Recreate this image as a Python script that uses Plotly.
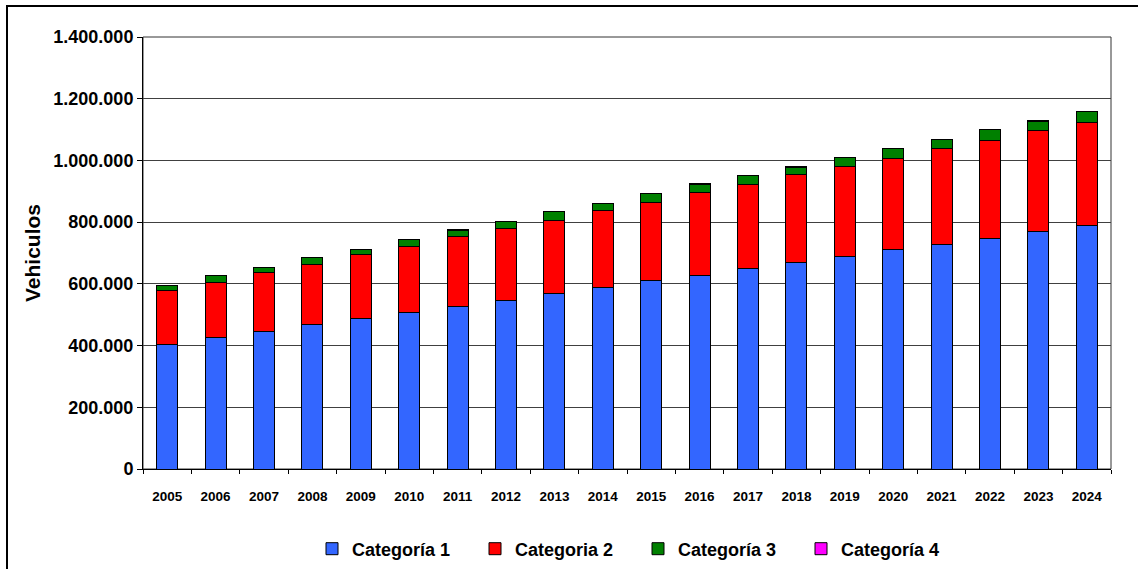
import plotly.graph_objects as go

years = [str(y) for y in range(2005, 2025)]
cat1 = [403000, 426000, 446000, 468000, 488000, 506000, 527000, 547000, 568000, 589000,
        611000, 627000, 649000, 669000, 690000, 711000, 728000, 748000, 770000, 789000]
cat2 = [175000, 177000, 190000, 195000, 207000, 215000, 227000, 233000, 237000, 249000,
        252000, 268000, 273000, 286000, 291000, 296000, 311000, 317000, 328000, 335000]
cat3 = [17000, 24000, 18000, 22000, 16000, 22000, 18000, 22000, 28000, 22000,
        29000, 27000, 29000, 22000, 28000, 33000, 29000, 34000, 27000, 33000]
cat4 = [0, 0, 0, 0, 0, 0, 3000, 0, 0, 0,
        0, 3000, 0, 3000, 0, 0, 0, 0, 3000, 0]

names = ["Categoría 1", "Categoria 2", "Categoría 3", "Categoría 4"]
colors = ["#3366FF", "#FF0000", "#008000", "#FF00FF"]
series = [cat1, cat2, cat3, cat4]

fig = go.Figure()
for n, c, s in zip(names, colors, series):
    fig.add_trace(go.Bar(x=years, y=s, name=n, marker=dict(color=c, line=dict(color="black", width=1))))

L, T, R, B = 143, 37, 1111, 469
W, H = 1138, 569
pw, ph = R - L, B - T

def px(x):
    return (x - L) / pw

def py(y):
    return (B - y) / ph

fig.update_layout(
    width=W, height=H, autosize=False,
    margin=dict(l=L, r=W - R, t=T, b=H - B),
    barmode="stack", bargap=0.565,
    plot_bgcolor="white", paper_bgcolor="white",
    separators=",.",
    font=dict(family="Liberation Sans, Arial, sans-serif", color="black"),
    showlegend=True,
    legend=dict(orientation="h", xref="container", yref="container",
                x=312 / W, y=1 - 549 / H, xanchor="left", yanchor="middle",
                entrywidth=118, entrywidthmode="pixels",
                font=dict(size=18, weight="bold"), itemclick=False,
                traceorder="normal", tracegroupgap=0),
    shapes=[
        dict(type="rect", xref="paper", yref="paper", x0=px(7), x1=px(1145), y0=py(6), y1=py(580),
             line=dict(color="black", width=2), fillcolor="rgba(0,0,0,0)", layer="above"),
        dict(type="rect", xref="paper", yref="paper", x0=0, x1=1, y0=0, y1=1,
             line=dict(color="#333333", width=1), fillcolor="rgba(0,0,0,0)", layer="below"),
    ],
)

fig.update_yaxes(
    range=[0, 1400000], dtick=200000, tickformat=",d",
    showgrid=True, gridcolor="#404040", gridwidth=1,
    showline=True, linecolor="black", linewidth=1,
    ticks="outside", ticklen=5, tickcolor="black",
    tickfont=dict(size=18, weight="bold"),
    title=dict(text="Vehiculos", font=dict(size=21, weight="bold"), standoff=6),
    zeroline=False,
)
fig.update_xaxes(
    type="category", tickson="boundaries",
    showline=True, linecolor="black", linewidth=1,
    ticks="outside", ticklen=4, tickcolor="black",
    tickfont=dict(size=13.5, weight="bold"),
    ticklabelstandoff=15,
    tickangle=0,
)

fig.write_html("out.html", config={"displayModeBar": False},
               post_script="document.body.style.margin='0';")
